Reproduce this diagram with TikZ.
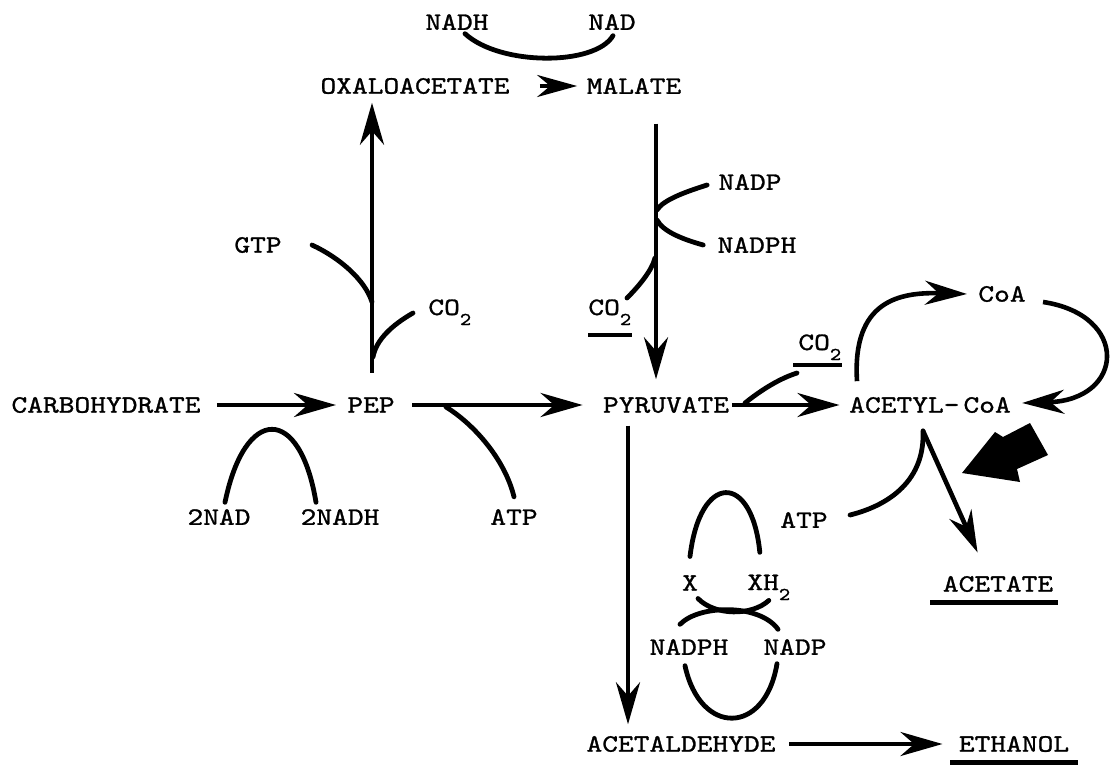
\documentclass[tikz,border=0pt]{standalone}
\usepackage{fontspec}
\newfontfamily\typewr{lmmono10-regular.otf}[FakeStretch=1.2, FakeBold=1.1]
\usetikzlibrary{arrows.meta}

\tikzset{
  met/.style={font=\typewr\fontsize{12.5}{14}\selectfont, inner sep=0pt},
  flow/.style={line width=2.3pt, -{Stealth[length=21pt, width=12pt]}},
  side/.style={line width=2.4pt, line cap=round},
}
\newcommand{\lowtwo}{\raisebox{-5pt}{\fontsize{9}{9}\selectfont 2}}

\begin{document}
\begin{tikzpicture}[x=0.5pt, y=-0.5pt]
\fill[white] (0,0) rectangle (1113,765);
\useasboundingbox (0,0) rectangle (1113,765);

% Define nodes
\path
(106,405) node[met] (carb) {CARBOHYDRATE}
(371,405) node[met] (pep) {PEP}
(666,405) node[met] (pyr) {PYRUVATE}
(930,405) node[met] (acl) {ACETYL-\kern2pt CoA}
(1002,294) node[met] (coa) {CoA}
(415,86) node[met] (oxa) {OXALOACETATE}
(634,86) node[met] (mal) {MALATE}
(457,22) node[met] (nadh) {NADH}
(612,22) node[met] (nad) {NAD}
(258,245) node[met] (gtp) {GTP}
(428,315) node[met, anchor=base west] (co2a) {CO\lowtwo}
(750,182) node[met] (nadp) {NADP}
(757,245) node[met] (nadph) {NADPH}
(588,315) node[met, anchor=base west] (co2b) {CO\lowtwo}
(798,350) node[met, anchor=base west] (co2c) {CO\lowtwo}
(219,517) node[met] (nad2) {2NAD}
(340,517) node[met] (nadh2) {2NADH}
(514,517) node[met] (atpa) {ATP}
(804,520) node[met] (atpb) {ATP}
(998,584) node[met] (ace) {ACETATE}
(690,583) node[met] (x) {X}
(747,590) node[met, anchor=base west] (xh2) {XH\lowtwo}
(689,647) node[met] (nadphb) {NADPH}
(795,647) node[met] (nadpb) {NADP}
(681,744) node[met] (ald) {ACETALDEHYDE}
(1014,744) node[met] (eth) {ETHANOL}
;

% joins of the side reactions
\coordinate (gtpj) at (372,302);
\coordinate (co2aj) at (373,357);
\coordinate (nadpj) at (657,210);
\coordinate (nadphj) at (657,220);
\coordinate (co2bj) at (655,258);
\coordinate (co2cj) at (745,403);
\coordinate (atpaj) at (446,407);
\coordinate (fork) at ([xshift=-3.5pt, yshift=-8.75pt]acl.south);

% main pathway
\draw[flow, shorten <=8pt, shorten >=5.5pt] (carb) -- (pep);
\draw[flow, shorten <=8.5pt, shorten >=10pt] (pep) -- (pyr);
\draw[flow, shorten <=1.2pt, shorten >=4.7pt] (pyr) -- (acl);
\draw[flow, shorten <=6.7pt, shorten >=8pt] (ald) -- (eth);
\draw[flow, -{Stealth[length=20pt, width=11pt]}, shorten <=15pt, shorten >=4.6pt]
  (oxa) -- (mal);
\draw[flow, shorten <=12.2pt, shorten >=4.2pt]
  ([xshift=0.5pt]pep.north) -- ([xshift=0.5pt]pep.north |- oxa.south);
\draw[flow, shorten <=14.7pt, shorten >=8.7pt]
  ([xshift=11pt]mal.south) -- ([xshift=-5pt]pyr.north);
\draw[flow, shorten <=6.2pt, shorten >=5.7pt]
  ([xshift=-19pt]pyr.south) -- ([xshift=-26.5pt]ald.north);
\draw[flow, shorten >=12.7pt] (fork) -- ([xshift=-5pt]ace.north);

% CoA cycle
\draw[flow] ([xshift=-36.5pt, yshift=7.75pt]acl.north)
  .. controls (852,300) and (900,292) .. ([xshift=-5.5pt]coa.west);
\draw[flow] ([xshift=8.5pt, yshift=-4pt]coa.east)
  .. controls (1130,315) and (1125,400) .. ([xshift=5.5pt, yshift=1pt]acl.east);

% cofactors
\draw[side] ([xshift=4pt, yshift=-1.75pt]nadh.south)
  .. controls (500,66) and (595,66) .. ([xshift=0.5pt, yshift=-2.75pt]nad.south);
\draw[side] ([xshift=15pt]gtp.east) .. controls (340,258) and (365,280) .. (gtpj);
\draw[side] ([xshift=-7.5pt, yshift=1pt]co2a.base west)
  .. controls (392,325) and (376,340) .. (co2aj);
\draw[side] ([xshift=-5.5pt, yshift=-1.5pt]nadp.west)
  .. controls (685,192) and (663,200) .. (nadpj);
\draw[side] (nadphj) .. controls (663,232) and (685,240) .. ([xshift=-7pt]nadph.west);
\draw[side] ([xshift=19.5pt, yshift=8.5pt]co2b.base west)
  .. controls (640,285) and (652,270) .. (co2bj);
\draw[side] ([xshift=-0.5pt, yshift=-11.5pt]co2c.base west)
  .. controls (775,380) and (755,395) .. (co2cj);
\draw[side] (atpaj) .. controls (475,425) and (505,460) .. ([yshift=6pt]atpa.north);
\draw[side] ([xshift=3pt, yshift=3.25pt]nad2.north)
  .. controls (245,405) and (300,405) .. ([xshift=-12pt, yshift=3.25pt]nadh2.north);
\draw[side] ([xshift=11pt, yshift=2.5pt]atpb.east)
  .. controls (890,505) and (925,480) .. (fork);
\draw[side] ([yshift=9.25pt]x.north)
  .. controls (700,472) and (752,472) .. ([xshift=-4.5pt, yshift=11pt]xh2.north);
\draw[side] ([xshift=4pt, yshift=-3.75pt]x.south)
  .. controls (715,616) and (752,616) .. (xh2.south);
\draw[side] ([xshift=-4.5pt, yshift=7.25pt]nadphb.north)
  .. controls (700,604) and (760,604) .. ([xshift=-8.5pt, yshift=4.75pt]nadpb.north);
\draw[side] ([xshift=-2pt, yshift=-5.25pt]nadphb.south)
  .. controls (700,736) and (765,736) .. ([xshift=-9pt, yshift=-4.25pt]nadpb.south);

% underlined end products
\draw[side, line cap=butt] ([yshift=-10pt]co2b.base west) -- ([yshift=-10pt]co2b.base east);
\draw[side, line cap=butt] ([xshift=-2.5pt, yshift=-7.5pt]co2c.base west)
  -- ([yshift=-7.5pt]co2c.base east);
\draw[side, line cap=butt] ([xshift=-6pt, yshift=-5pt]ace.south west)
  -- ([xshift=2pt, yshift=-5pt]ace.south east);
\draw[side, line cap=butt] ([xshift=-4pt, yshift=-5pt]eth.south west)
  -- ([xshift=4pt, yshift=-5pt]eth.south east);

% block arrow into acetyl-CoA
\fill (962,473) -- (995,432) -- (1003,437) -- (1030,423) -- (1048,455)
  -- (1017,469) -- (1020,482) -- cycle;

\end{tikzpicture}
\end{document}
